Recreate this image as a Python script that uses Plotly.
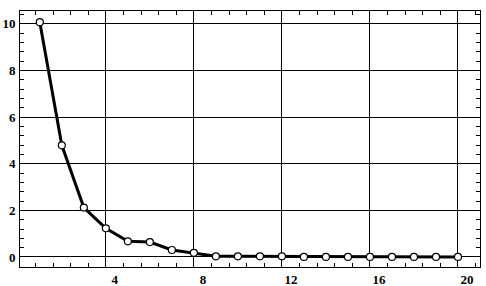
import plotly.graph_objects as go

x_vals = list(range(1, 21))
y_vals = [10.07, 4.79, 2.12, 1.23, 0.67, 0.64, 0.30, 0.18, 0.03, 0.03,
          0.03, 0.03, 0.0, 0.0, 0.0, 0.0, 0.0, 0.0, 0.0, 0.0]
x_ticks = [4, 8, 12, 16, 20]
y_ticks = [0, 2, 4, 6, 8, 10]

font = dict(family="Liberation Serif, DejaVu Serif, serif", size=13, color="black")

fig = go.Figure()
fig.add_trace(go.Scatter(
    x=x_vals, y=y_vals, mode="lines+markers",
    line=dict(color="black", width=3),
    marker=dict(symbol="circle", size=7, color="white",
                line=dict(color="black", width=1.2)),
    showlegend=False,
))

axis_common = dict(
    showline=True, linecolor="black", linewidth=1, mirror="ticks",
    ticks="inside", ticklen=4, tickcolor="black", tickwidth=1,
    showgrid=True, gridcolor="black", gridwidth=1, zeroline=False,
    tickfont=font, automargin=False,
)

fig.update_xaxes(range=[0.1, 21.0], tickvals=x_ticks,
                 ticktext=[f"<b>{v}</b>" for v in x_ticks],
                 ticklabelshift=9, ticklabelstandoff=0,
                 minor=dict(ticks="inside", ticklen=4, dtick=0.8, tick0=0,
                            tickcolor="black", showgrid=False),
                 **axis_common)
fig.update_yaxes(range=[-0.43, 10.55], tickvals=y_ticks,
                 ticktext=[f"<b>{v}</b>" for v in y_ticks],
                 ticklabelstandoff=1,
                 minor=dict(ticks="inside", ticklen=4, dtick=0.4, tick0=0,
                            tickcolor="black", showgrid=False),
                 **axis_common)

fig.update_layout(
    width=486, height=286,
    margin=dict(l=20, r=6, t=11, b=19),
    paper_bgcolor="white", plot_bgcolor="white",
    font=font,
)

fig.write_html("out.html")
